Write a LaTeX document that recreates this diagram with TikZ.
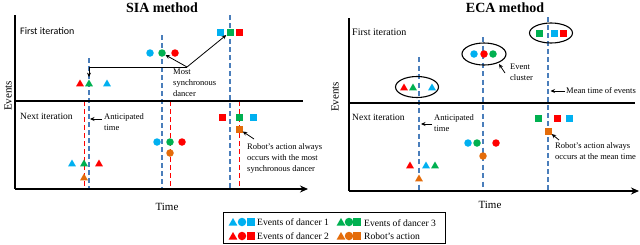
\documentclass[tikz,border=0pt]{standalone}
\usepackage{fontspec}
\setmainfont{Liberation Serif}
\newfontfamily\calib{Carlito}
\usetikzlibrary{shapes.geometric,arrows.meta}
\definecolor{cb}{HTML}{00B0F0}
\definecolor{cg}{HTML}{00B050}
\definecolor{cr}{HTML}{FF0000}
\definecolor{co}{HTML}{E46C0A}
\definecolor{dashblue}{HTML}{4A7EBB}
\begin{document}
\begin{tikzpicture}[x=1pt,y=-1pt,
 tri/.style={regular polygon, regular polygon sides=3, minimum size=9pt, inner sep=0pt, fill=#1},
 circ/.style={circle, minimum size=7.5pt, inner sep=0pt, fill=#1},
 sq/.style={rectangle, minimum size=7pt, inner sep=0pt, fill=#1},
 ltri/.style={tri=#1, minimum size=10pt},
 lcirc/.style={circ=#1, minimum size=8.5pt},
 lsq/.style={sq=#1, minimum size=8pt},
 bdash/.style={dashblue, line width=1.6pt, dash pattern=on 5pt off 3pt},
 bthin/.style={dashblue, line width=1.2pt, dash pattern=on 5pt off 3.5pt},
 rdash/.style={cr, line width=1pt, dash pattern=on 5pt off 3pt},
 axis/.style={line width=1.4pt, black},
 note/.style={font=\fontsize{8.5}{11}\selectfont, align=left, anchor=north west, inner sep=0pt},
 lbl/.style={font=\fontsize{9.5}{11}\selectfont, anchor=west, inner sep=0pt},
 ann/.style={-{Stealth[length=4.5pt,width=4pt]}, line width=0.8pt},
 ell/.style={ellipse, draw, line width=1.1pt, minimum width=#1, minimum height=21pt, inner sep=0pt},
 ttl/.style={font=\bfseries\fontsize{14}{16}\selectfont, inner sep=0pt},
 axl/.style={font=\fontsize{11}{13}\selectfont, inner sep=0pt},
 leg/.style={font=\fontsize{9.6}{11}\selectfont, anchor=west, inner sep=0pt},
]
\useasboundingbox (0,0) rectangle (640,244);

% ================= LEFT PANEL (SIA) =================
\node[ttl] (tsia) at (162,8) {SIA method};
\node[axl, rotate=90] (evL) at (8,96) {Events};
\node[axl] (timeL) at (167,207) {Time};
\node[lbl, font=\calib\fontsize{10}{12}\selectfont] (firstL) at (20,31) {First iteration};
\node[lbl] (nextL) at (20,116) {Next iteration};

% dashed guide lines
\draw[bdash] (89,58) -- (89,189);
\draw[bdash] (162,35) -- (162,189);
\draw[bdash] (230,15) -- (230,189);
\draw[rdash] (84,101) -- (84,189);
\draw[rdash] (170,101) -- (170,189);
\draw[rdash] (239,101) -- (239,189);

% axes
\draw[axis] (15,15) -- (15,189);
\draw[axis] (15,101) -- (303,101);
\draw[axis,-{Stealth[length=8pt,width=7pt]}] (15,189) -- (308,189);

% first iteration events
\node[tri=cr] (rt1) at (80,84) {};
\node[tri=cg] (gt1) at (89,84) {};
\node[tri=cb] (bt1) at (107,84) {};
\node[circ=cb] (bc1) at (150,53) {};
\node[circ=cg] (gc1) at (162,53) {};
\node[circ=cr] (rc1) at (175,53) {};
\node[sq=cb] (bs1) at (220,32) {};
\node[sq=cg] (gs1) at (230,32) {};
\node[sq=cr] (rs1) at (239,32) {};

% next iteration events
\node[sq=cr] (rs2) at (222,117) {};
\node[sq=cg] (gs2) at (239,117) {};
\node[sq=cb] (bs2) at (253,117) {};
\node[sq=co] (os2) at (239,129) {};
\node[circ=cb] (bc2) at (157,142) {};
\node[circ=cg] (gc2) at (170,142) {};
\node[circ=cr] (rc2) at (182,142) {};
\node[circ=co] (oc2) at (170,153) {};
\node[tri=cb] (bt2) at (72,164) {};
\node[tri=cg] (gt2) at (84,164) {};
\node[tri=cr] (rt2) at (99,164) {};
\node[tri=co] (ot2) at (84,178) {};

% annotations
\coordinate (jL) at (187,67);
\draw[ann] (jL) -- (gc1);
\draw[ann] (jL) -- (gs1);
\draw[ann, shorten >=2pt] (jL) -- (jL -| gt1) -- (gt1.north);
\node[note] (mostL) at (173,68.5) {Most\\synchronous\\dancer};

\coordinate (antLs) at (102,119);
\coordinate (antLe) at (90,119);
\draw[ann] (antLs) -- (antLe);
\node[note] (antL) at (104,113.5) {Anticipated\\time};

\coordinate (robLs) at (254,139);
\draw[ann] (robLs) -- (os2);
\node[note] (robL) at (247,143.5) {Robot's action always\\occurs with the most\\synchronous dancer};

% ================= RIGHT PANEL (ECA) =================
\node[ttl] (teca) at (505,8) {ECA method};
\node[axl, rotate=90] (evR) at (335,97) {Events};
\node[axl] (timeR) at (490,205) {Time};
\node[lbl, font=\fontsize{10}{12}\selectfont] (firstR) at (352,32) {First iteration};
\node[lbl] (nextR) at (352,117) {Next iteration};

\draw[bthin] (419,57) -- (419,191);
\draw[bthin] (483,37) -- (483,191);
\draw[bdash] (548,17) -- (548,191);

\draw[axis] (349,18) -- (349,191);
\draw[axis] (349,103) -- (635,103);
\draw[axis,-{Stealth[length=8pt,width=7pt]}] (349,191) -- (639,191);

% clusters
\node[ell=43pt] (e1) at (417,87) {};
\node[ell=44pt, minimum height=22pt] (e2) at (484,54) {};
\node[ell=43pt, minimum height=20pt] (e3) at (551,33) {};

\node[tri=cr] (rt3) at (404,88) {};
\node[tri=cg] (gt3) at (413,88) {};
\node[tri=cb] (bt3) at (432,88) {};
\node[circ=cb] (bc3) at (474,54) {};
\node[circ=cr] (rc3) at (484,54) {};
\node[circ=cg] (gc3) at (493,54) {};
\node[sq=cg] (gs3) at (539,33) {};
\node[sq=cb] (bs3) at (554,33) {};
\node[sq=cr] (rs3) at (563,33) {};

\node[sq=cg] (gs4) at (538,118) {};
\node[sq=cr] (rs4) at (557,118) {};
\node[sq=cb] (bs4) at (569,118) {};
\node[sq=co] (os4) at (548,131) {};
\node[circ=cb] (bc4) at (468,143) {};
\node[circ=cg] (gc4) at (477,143) {};
\node[circ=cr] (rc4) at (496,143) {};
\node[circ=co] (oc4) at (483,156) {};
\node[tri=cr] (rt4) at (410,166) {};
\node[tri=cb] (bt4) at (426,166) {};
\node[tri=cg] (gt4) at (435,166) {};
\node[tri=co] (ot4) at (419,179) {};

% annotations
\coordinate (ecs) at (505,73);
\coordinate (ece) at (499,64);
\draw[ann] (ecs) -- (ece);
\node[note] (ecl) at (510,63.5) {Event\\cluster};

\coordinate (mts) at (565,91);
\coordinate (mte) at (550.5,91);
\draw[ann] (mts) -- (mte);
\node[lbl, font=\fontsize{8.5}{11}\selectfont] (mtl) at (566,91) {Mean time of events};

\coordinate (robRs) at (559,140);
\draw[ann] (robRs) -- (os4);
\node[note] (robR) at (555,142.5) {Robot's action always\\occurs at the mean time};

\coordinate (antRs) at (432,124);
\coordinate (antRe) at (421,124);
\draw[ann] (antRs) -- (antRe);
\node[note] (antR) at (434,114.5) {Anticipated\\time};

% ================= LEGEND =================
\node[draw, line width=0.8pt, minimum width=222pt, minimum height=31pt, inner sep=0pt] (legend) at (334,227.5) {};
\node[ltri=cb] (lg1) at (233,223) {};
\node[lcirc=cb] (lg2) at (242,222) {};
\node[lsq=cb] (lg3) at (251,222) {};
\node[leg] (lgt1) at (257,222) {Events of dancer 1};
\node[ltri=cg] (lg4) at (341,223) {};
\node[lcirc=cg] (lg5) at (349,222) {};
\node[lsq=cg] (lg6) at (357,222) {};
\node[leg] (lgt3) at (364,223) {Events of dancer 3};
\node[ltri=cr] (lg7) at (233,237) {};
\node[lcirc=cr] (lg8) at (242,236) {};
\node[lsq=cr] (lg9) at (251,236) {};
\node[leg] (lgt2) at (257,236) {Events of dancer 2};
\node[ltri=co] (lg10) at (341,237) {};
\node[lcirc=co] (lg11) at (349,236) {};
\node[lsq=co] (lg12) at (357,236) {};
\node[leg] (lgt4) at (364,236) {Robot's action};
\end{tikzpicture}
\end{document}
